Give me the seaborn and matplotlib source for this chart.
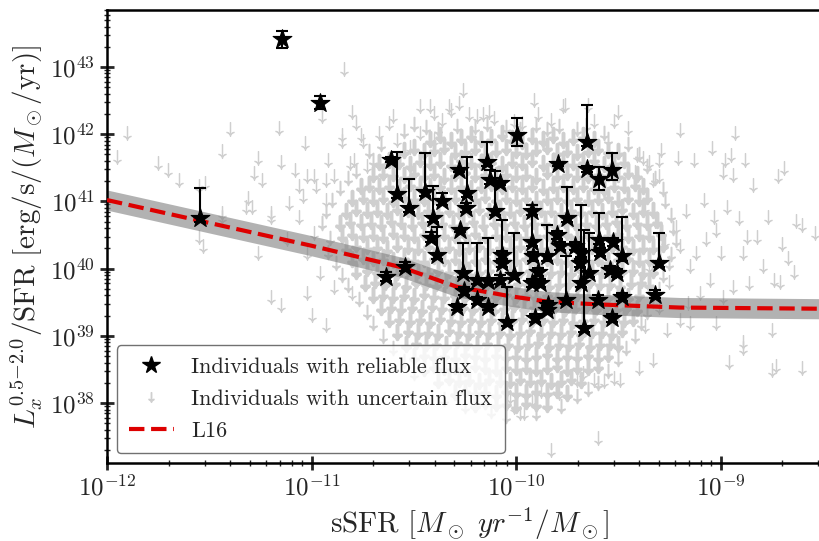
import numpy as np
import matplotlib
matplotlib.use("Agg")
import matplotlib.pyplot as plt
from matplotlib.lines import Line2D
from matplotlib.transforms import ScaledTranslation
import seaborn as sns

# ---------------- data (log10 values) ----------------
# reliable detections: log sSFR, log Lx/SFR, upper and lower error-bar ends
stars_x = [-11.146, -10.958, -11.545, -10.636, -10.543, -10.613, -10.583, -10.523, -10.445, -10.407,
           -10.362, -10.416, -10.388, -10.279, -10.241, -10.244, -10.274, -10.143, -10.127, -10.078,
           -10.103, -9.993, -9.796, -9.654, -9.654, -9.596, -9.529, -9.923, -9.749, -9.299,
           -9.320, -10.261, -10.254, -10.287, -10.189, -10.189, -10.139, -10.135, -10.078, -10.070,
           -10.070, -10.008, -10.045, -9.923, -9.915, -9.890, -9.883, -9.923, -9.850, -9.801,
           -9.785, -9.850, -9.907, -9.842, -9.756, -9.712, -9.680, -9.687, -9.680, -9.667,
           -9.641, -9.601, -9.593, -9.589, -9.529, -9.524, -9.540, -9.508, -9.483, -9.483]
stars_y = [43.41, 42.47, 40.75, 39.88, 40.03, 41.62, 41.11, 40.90, 41.14, 40.75,
           41.01, 40.46, 40.20, 41.47, 41.13, 40.90, 40.57, 41.58, 41.32, 41.27,
           40.85, 41.99, 41.55, 41.89, 41.48, 41.33, 41.47, 40.85, 40.75, 40.09,
           39.61, 39.93, 39.66, 39.43, 39.83, 39.53, 39.43, 39.81, 39.83, 40.08,
           40.20, 39.90, 39.21, 40.40, 40.18, 39.95, 39.78, 39.78, 40.18, 40.50,
           40.33, 39.38, 39.26, 39.46, 39.54, 40.33, 40.23, 40.08, 39.78, 39.11,
           39.93, 39.54, 40.43, 40.25, 39.26, 40.40, 39.98, 39.93, 40.18, 39.58]
stars_hi = [43.54, 42.57, 41.20, 39.95, 40.10, 41.66, 41.73, 41.33, 41.72, 41.23,
            41.12, 40.55, 40.62, 41.50, 41.66, 40.97, 40.60, 41.89, 41.47, 41.30,
            41.45, 42.24, 41.58, 42.43, 41.52, 41.51, 41.72, 40.95, 41.22, 40.53,
            39.68, 40.38, 39.72, 39.48, 40.38, 39.58, 39.48, 40.45, 39.90, 40.72,
            40.26, 40.53, 39.73, 40.95, 40.24, 40.01, 39.84, 39.84, 40.65, 40.56,
            40.39, 39.44, 39.32, 39.52, 40.18, 40.39, 40.29, 40.14, 40.95, 40.57,
            40.53, 39.60, 40.83, 40.31, 39.32, 40.46, 40.04, 39.99, 40.77, 39.64]
stars_lo = [43.28, 42.38, 40.69, 39.82, 39.97, 41.58, 41.05, 40.84, 41.08, 40.69,
            40.95, 40.40, 40.14, 41.44, 41.07, 40.84, 40.54, 41.52, 41.26, 41.24,
            40.79, 41.82, 41.52, 41.83, 41.44, 41.17, 41.32, 40.80, 40.69, 40.03,
            39.56, 39.87, 39.60, 39.38, 39.77, 39.48, 39.38, 39.75, 39.77, 40.02,
            40.14, 39.84, 39.15, 40.34, 40.12, 39.89, 39.72, 39.72, 40.12, 40.44,
            40.27, 39.32, 39.20, 39.40, 39.48, 40.27, 40.17, 40.02, 39.72, 39.05,
            39.87, 39.48, 40.37, 40.19, 39.20, 40.34, 39.92, 39.87, 40.12, 39.52]

# uncertain detections (upper limits, value = top of the arrow), dense central cloud
core_x = [
 -10.42,-10.37,-10.32,-10.27,-10.22,-10.17,-10.12,-10.07,-10.02,-9.97,-9.92,-9.87,-9.82,-9.77,-9.72,-9.67,-9.62,
 -10.55,-10.50,-10.45,-10.40,-10.35,-10.30,-10.25,-10.20,-10.15,-10.10,-10.05,-10.00,-9.95,-9.90,-9.85,-9.80,-9.75,-9.70,-9.65,-9.60,-9.55,-9.50,
 -10.67,-10.62,-10.57,-10.52,-10.47,-10.42,-10.37,-10.32,-10.27,-10.22,-10.17,-10.12,-10.07,-10.02,-9.97,-9.92,-9.87,-9.82,-9.77,-9.72,-9.67,-9.62,-9.57,-9.52,-9.47,
 -10.70,-10.65,-10.60,-10.55,-10.50,-10.45,-10.40,-10.35,-10.30,-10.25,-10.20,-10.15,-10.10,-10.05,-10.00,-9.95,-9.90,-9.85,-9.80,-9.75,-9.70,-9.65,-9.60,-9.55,-9.50,-9.45,-9.41,
 -10.76,-10.72,-10.67,-10.62,-10.57,-10.52,-10.47,-10.42,-10.37,-10.32,-10.27,-10.22,-10.17,-10.12,-10.07,-10.02,-9.97,-9.92,-9.87,-9.82,-9.77,-9.72,-9.67,-9.62,-9.57,-9.52,-9.47,-9.42,-9.38,
 -10.80,-10.75,-10.70,-10.65,-10.60,-10.55,-10.50,-10.45,-10.40,-10.35,-10.30,-10.25,-10.20,-10.15,-10.10,-10.05,-10.00,-9.95,-9.90,-9.85,-9.80,-9.75,-9.70,-9.65,-9.60,-9.55,-9.50,-9.45,-9.40,-9.36,
 -10.83,-10.78,-10.73,-10.68,-10.63,-10.58,-10.53,-10.48,-10.43,-10.38,-10.33,-10.28,-10.23,-10.18,-10.13,-10.08,-10.03,-9.98,-9.93,-9.88,-9.83,-9.78,-9.73,-9.68,-9.63,-9.58,-9.53,-9.48,-9.43,-9.38,-9.33,
 -10.86,-10.81,-10.76,-10.71,-10.66,-10.61,-10.56,-10.51,-10.46,-10.41,-10.36,-10.31,-10.26,-10.21,-10.16,-10.11,-10.06,-10.01,-9.96,-9.91,-9.86,-9.81,-9.76,-9.71,-9.66,-9.61,-9.56,-9.51,-9.46,-9.41,-9.36,-9.31,
 -10.85,-10.80,-10.75,-10.70,-10.65,-10.60,-10.55,-10.50,-10.45,-10.40,-10.35,-10.30,-10.25,-10.20,-10.15,-10.10,-10.05,-10.00,-9.95,-9.90,-9.85,-9.80,-9.75,-9.70,-9.65,-9.60,-9.55,-9.50,-9.45,-9.40,-9.35,-9.29,
 -10.83,-10.78,-10.73,-10.68,-10.63,-10.58,-10.53,-10.48,-10.43,-10.38,-10.33,-10.28,-10.23,-10.18,-10.13,-10.08,-10.03,-9.98,-9.93,-9.88,-9.83,-9.78,-9.73,-9.68,-9.63,-9.58,-9.53,-9.48,-9.43,-9.38,-9.33,-9.28,
 -10.80,-10.75,-10.70,-10.65,-10.60,-10.55,-10.50,-10.45,-10.40,-10.35,-10.30,-10.25,-10.20,-10.15,-10.10,-10.05,-10.00,-9.95,-9.90,-9.85,-9.80,-9.75,-9.70,-9.65,-9.60,-9.55,-9.50,-9.45,-9.40,-9.35,-9.30,
 -10.78,-10.73,-10.68,-10.63,-10.58,-10.53,-10.48,-10.43,-10.38,-10.33,-10.28,-10.23,-10.18,-10.13,-10.08,-10.03,-9.98,-9.93,-9.88,-9.83,-9.78,-9.73,-9.68,-9.63,-9.58,-9.53,-9.48,-9.43,-9.38,-9.33,
 -10.74,-10.69,-10.64,-10.59,-10.54,-10.49,-10.44,-10.39,-10.34,-10.29,-10.24,-10.19,-10.14,-10.09,-10.04,-9.99,-9.94,-9.89,-9.84,-9.79,-9.74,-9.69,-9.64,-9.59,-9.54,-9.49,-9.44,-9.39,-9.35,
 -10.70,-10.65,-10.60,-10.55,-10.50,-10.45,-10.40,-10.35,-10.30,-10.25,-10.20,-10.15,-10.10,-10.05,-10.00,-9.95,-9.90,-9.85,-9.80,-9.75,-9.70,-9.65,-9.60,-9.55,-9.50,-9.45,-9.40,
 -10.66,-10.61,-10.56,-10.51,-10.46,-10.41,-10.36,-10.31,-10.26,-10.21,-10.16,-10.11,-10.06,-10.01,-9.96,-9.91,-9.86,-9.81,-9.76,-9.71,-9.66,-9.61,-9.56,-9.51,-9.46,-9.41,
 -10.62,-10.57,-10.52,-10.47,-10.42,-10.37,-10.32,-10.27,-10.22,-10.17,-10.12,-10.07,-10.02,-9.97,-9.92,-9.87,-9.82,-9.77,-9.72,-9.67,-9.62,-9.57,-9.52,-9.47,-9.43,
 -10.58,-10.53,-10.48,-10.43,-10.38,-10.33,-10.28,-10.23,-10.18,-10.13,-10.08,-10.03,-9.98,-9.93,-9.88,-9.83,-9.78,-9.73,-9.68,-9.63,-9.58,-9.53,-9.48,
 -10.54,-10.49,-10.44,-10.39,-10.34,-10.29,-10.24,-10.19,-10.14,-10.09,-10.04,-9.99,-9.94,-9.89,-9.84,-9.79,-9.74,-9.69,-9.64,-9.59,-9.54,-9.50,
 -10.50,-10.45,-10.40,-10.35,-10.30,-10.25,-10.20,-10.15,-10.10,-10.05,-10.00,-9.95,-9.90,-9.85,-9.80,-9.75,-9.70,-9.65,-9.60,-9.55,
 -10.45,-10.40,-10.35,-10.30,-10.25,-10.20,-10.15,-10.10,-10.05,-10.00,-9.95,-9.90,-9.85,-9.80,-9.75,-9.70,-9.65,-9.60,
 -10.38,-10.33,-10.28,-10.23,-10.18,-10.13,-10.08,-10.03,-9.98,-9.93,-9.88,-9.83,-9.78,-9.73,-9.68,
 -10.30,-10.25,-10.20,-10.15,-10.10,-10.05,-10.00,-9.95,-9.90,-9.85,-9.80,-9.75,
 -10.20,-10.15,-10.10,-10.05,-10.00,-9.95,-9.90,-9.85]
core_y = [
 42.03,42.08,42.01,42.06,42.10,42.02,42.05,42.12,42.04,42.00,42.07,42.03,42.09,42.01,42.05,42.08,42.02,
 41.86,41.90,41.84,41.89,41.92,41.85,41.88,41.91,41.83,41.87,41.90,41.86,41.84,41.89,41.92,41.85,41.88,41.83,41.87,41.90,41.86,41.84,
 41.68,41.72,41.70,41.66,41.73,41.69,41.71,41.67,41.74,41.70,41.68,41.72,41.66,41.71,41.69,41.73,41.67,41.70,41.72,41.68,41.71,41.74,41.66,41.70,41.72,
 41.50,41.54,41.52,41.49,41.55,41.51,41.53,41.48,41.52,41.56,41.50,41.53,41.49,41.54,41.51,41.52,41.48,41.55,41.50,41.53,41.51,41.49,41.54,41.52,41.50,41.55,41.51,
 41.32,41.36,41.33,41.35,41.31,41.37,41.34,41.32,41.36,41.33,41.35,41.30,41.34,41.37,41.32,41.35,41.33,41.36,41.31,41.34,41.35,41.32,41.36,41.33,41.30,41.35,41.34,41.37,41.32,
 41.14,41.18,41.15,41.17,41.13,41.19,41.16,41.14,41.18,41.15,41.17,41.13,41.16,41.19,41.14,41.17,41.15,41.18,41.13,41.16,41.17,41.14,41.18,41.15,41.16,41.19,41.13,41.17,41.15,41.18,
 40.96,41.00,40.97,40.99,40.95,41.01,40.98,40.96,41.00,40.97,40.99,40.95,40.98,41.01,40.96,40.99,40.97,41.00,40.95,40.98,40.99,40.96,41.00,40.97,40.98,40.95,40.99,41.01,40.96,40.98,40.97,
 40.78,40.82,40.79,40.81,40.77,40.83,40.80,40.78,40.82,40.79,40.81,40.77,40.80,40.83,40.78,40.81,40.79,40.82,40.77,40.80,40.81,40.78,40.82,40.79,40.80,40.77,40.81,40.83,40.78,40.80,40.79,40.82,
 40.60,40.64,40.61,40.63,40.59,40.65,40.62,40.60,40.64,40.61,40.63,40.59,40.62,40.65,40.60,40.63,40.61,40.64,40.59,40.62,40.63,40.60,40.64,40.61,40.62,40.59,40.63,40.65,40.60,40.62,40.61,40.64,
 40.42,40.46,40.43,40.45,40.41,40.47,40.44,40.42,40.46,40.43,40.45,40.41,40.44,40.47,40.42,40.45,40.43,40.46,40.41,40.44,40.45,40.42,40.46,40.43,40.44,40.41,40.45,40.47,40.42,40.44,40.43,40.46,
 40.24,40.28,40.25,40.27,40.23,40.29,40.26,40.24,40.28,40.25,40.27,40.23,40.26,40.29,40.24,40.27,40.25,40.28,40.23,40.26,40.27,40.24,40.28,40.25,40.26,40.23,40.27,40.29,40.24,40.26,40.25,
 40.06,40.10,40.07,40.09,40.05,40.11,40.08,40.06,40.10,40.07,40.09,40.05,40.08,40.11,40.06,40.09,40.07,40.10,40.05,40.08,40.09,40.06,40.10,40.07,40.08,40.05,40.09,40.11,40.06,40.08,
 39.88,39.92,39.89,39.91,39.87,39.93,39.90,39.88,39.92,39.89,39.91,39.87,39.90,39.93,39.88,39.91,39.89,39.92,39.87,39.90,39.91,39.88,39.92,39.89,39.90,39.87,39.91,39.93,39.88,
 39.70,39.74,39.71,39.73,39.69,39.75,39.72,39.70,39.74,39.71,39.73,39.69,39.72,39.75,39.70,39.73,39.71,39.74,39.69,39.72,39.73,39.70,39.74,39.71,39.72,39.69,39.73,
 39.52,39.56,39.53,39.55,39.51,39.57,39.54,39.52,39.56,39.53,39.55,39.51,39.54,39.57,39.52,39.55,39.53,39.56,39.51,39.54,39.55,39.52,39.56,39.53,39.54,39.51,
 39.34,39.38,39.35,39.37,39.33,39.39,39.36,39.34,39.38,39.35,39.37,39.33,39.36,39.39,39.34,39.37,39.35,39.38,39.33,39.36,39.37,39.34,39.38,39.35,39.36,
 39.16,39.20,39.17,39.19,39.15,39.21,39.18,39.16,39.20,39.17,39.19,39.15,39.18,39.21,39.16,39.19,39.17,39.20,39.15,39.18,39.19,39.16,39.20,
 38.98,39.02,38.99,39.01,38.97,39.03,39.00,38.98,39.02,38.99,39.01,38.97,39.00,39.03,38.98,39.01,38.99,39.02,38.97,39.00,39.01,38.98,
 38.80,38.84,38.81,38.83,38.79,38.85,38.82,38.80,38.84,38.81,38.83,38.79,38.82,38.85,38.80,38.83,38.81,38.84,38.79,38.82,
 38.62,38.66,38.63,38.65,38.61,38.67,38.64,38.62,38.66,38.63,38.65,38.61,38.64,38.67,38.62,38.65,38.63,38.66,
 38.44,38.48,38.45,38.47,38.43,38.49,38.46,38.44,38.48,38.45,38.47,38.43,38.46,38.49,38.44,
 38.26,38.30,38.27,38.29,38.25,38.31,38.28,38.26,38.30,38.27,38.29,38.25,
 38.08,38.12,38.09,38.11,38.07,38.13,38.10,38.08]

# uncertain detections along the ragged rim of the cloud
fringe_x = [
 -10.55, -10.50, -10.44, -10.38, -10.29, -10.20, -10.14, -10.05, -9.98, -9.90, -9.85, -9.79, -9.70, -9.66, -9.57, -9.55,
 -10.72, -10.66, -10.70, -10.78, -10.82, -10.86, -10.90, -10.93, -10.95, -10.91, -10.92, -10.88, -10.85, -10.82, -10.77,
 -10.73, -10.70, -10.65, -10.60, -10.55, -10.50,
 -9.45, -9.40, -9.36, -9.32, -9.28, -9.27, -9.24, -9.23, -9.22, -9.24, -9.25, -9.28, -9.30, -9.33, -9.36,
 -9.39, -9.42, -9.46, -9.50, -9.55, -9.60,
 -10.35, -10.25, -10.12, -10.05, -9.90, -9.78, -9.70, -9.65]
fringe_y = [
 42.15, 42.25, 42.20, 42.18, 42.22, 42.20, 42.25, 42.21, 42.17, 42.23, 42.18, 42.22, 42.17, 42.24, 42.12, 42.02,
 41.85, 41.95, 41.72, 41.55, 41.45, 41.30, 41.12, 40.95, 40.78, 40.55, 40.35, 40.18, 40.00, 39.85, 39.65,
 39.45, 39.28, 39.10, 38.92, 38.72, 38.55,
 41.95, 41.80, 41.62, 41.45, 41.28, 41.10, 40.90, 40.70, 40.52, 40.32, 40.18, 40.00, 39.80, 39.62, 39.45,
 39.28, 39.10, 38.92, 38.75, 38.58, 38.40,
 38.15, 38.05, 37.98, 37.90, 37.95, 38.05, 38.20, 38.30]

# uncertain detections, scattered outskirts
edge_x = [
 -10.84, -11.90, -11.95, -11.40, -11.16, -11.44, -11.03, -10.95, -10.85, -10.80, -10.78, -10.76,
 -11.75, -11.70, -11.65, -11.55, -11.52, -11.44, -11.31, -11.29, -11.26, -11.15, -11.28, -11.24,
 -11.20, -11.11, -11.08, -11.06, -11.04, -11.02, -10.99, -10.98, -10.92, -10.93, -10.89, -10.85,
 -10.81, -10.79, -10.75, -10.73, -10.67, -10.62, -10.60, -10.58, -10.47, -10.42, -10.40, -10.36,
 -10.33, -10.28, -10.52, -10.47, -10.40, -10.32, -11.55,
 -11.53, -11.44, -11.32, -11.26, -11.20, -11.06, -10.99, -10.93, -11.20, -11.12, -11.02, -10.96,
 -10.89, -10.80, -11.02, -11.15, -11.00, -10.93,
 -10.26, -9.91, -9.77, -10.32, -10.23, -10.19, -10.16, -10.13, -10.11, -9.65, -9.89, -9.83,
 -9.62, -10.01, -9.97,
 -9.76, -9.50, -9.52, -9.45, -9.20, -8.93, -9.04, -9.13, -9.21, -8.98, -8.95, -8.88, -8.99,
 -8.94, -8.84, -8.72, -8.69, -9.29, -9.30, -9.41, -9.38, -9.35, -9.42, -9.30, -9.33,
 -8.77, -8.63, -8.60, -8.54, -8.70, -8.67, -8.64, -8.71, -8.74, -8.79, -8.82, -8.87, -8.91,
 -8.89, -8.86, -8.94, -8.97, -9.08, -9.03, -9.02, -9.07, -9.12, -9.00, -9.05, -8.99, -9.10,
 -9.16, -9.20, -9.26, -8.75, -8.89, -9.02, -9.15,
 -8.89, -8.96, -8.75, -8.60, -8.73, -9.33, -9.40, -9.49,
 -9.98, -9.96, -9.83, -9.60, -9.92, -9.88, -9.79, -9.70, -9.62, -9.57, -9.52, -9.67, -10.01, -10.03,
 -9.37, -9.32, -9.27, -9.22, -9.17, -9.35, -9.25, -9.30, -9.37, -9.15, -9.20]
edge_y = [
 43.06, 42.11, 41.76, 42.17, 42.19, 41.84, 41.96, 42.36, 42.09, 42.42, 42.26, 42.09,
 41.67, 41.57, 41.42, 41.32, 41.37, 40.92, 41.14, 41.02, 41.74, 41.69, 41.52, 41.42,
 40.92, 41.07, 41.57, 41.32, 41.17, 41.47, 41.47, 41.32, 41.72, 41.42, 41.47, 41.99,
 41.67, 41.72, 41.99, 41.62, 42.11, 42.26, 42.36, 42.01, 42.51, 42.51, 42.41, 42.31,
 42.51, 42.56, 41.91, 42.11, 42.01, 42.01, 40.57,
 40.43, 40.87, 41.02, 40.33, 40.87, 40.87, 40.62, 41.12, 39.68, 40.53, 40.33, 40.03,
 39.83, 39.73, 39.73, 39.55, 39.40, 39.25,
 42.76, 42.61, 42.51, 42.46, 42.39, 42.36, 42.39, 42.43, 42.34, 42.53, 42.39, 42.31,
 42.29, 42.29, 42.26,
 42.53, 42.43, 42.29, 42.19, 42.16, 42.11, 41.89, 41.72, 41.74, 41.72, 41.79, 41.72, 41.54,
 41.49, 41.34, 41.47, 41.59, 41.86, 41.72, 41.79, 41.74, 41.69, 41.54, 41.47, 41.42,
 40.87, 40.80, 40.75, 40.62, 40.47, 40.25, 40.05, 39.90, 39.93, 40.13, 40.57, 40.57, 40.85,
 40.33, 39.88, 39.83, 41.02, 41.12, 40.87, 40.67, 40.53, 40.33, 40.33, 39.93, 39.68, 39.73,
 39.58, 39.33, 39.19, 39.19, 39.01, 39.28, 39.28,
 38.91, 38.71, 38.59, 38.61, 38.64, 38.74, 38.61, 38.44,
 37.95, 37.95, 37.40, 37.57, 38.14, 38.27, 38.24, 38.44, 38.44, 38.42, 38.47, 38.54, 38.04, 38.19,
 41.02, 40.80, 40.50, 40.72, 40.95, 40.13, 39.90, 39.53, 39.24, 40.13, 40.43]

# L16 relation (log sSFR, log Lx/SFR) and its uncertainty band
l16_x = [-12.0, -11.0, -10.56, -10.29, -10.03, -9.85, -9.62, -9.20, -8.40]
l16_y = [41.02, 40.34, 40.02, 39.73, 39.59, 39.51, 39.47, 39.42, 39.40]
l16_lo = [40.87, 40.19, 39.87, 39.58, 39.44, 39.36, 39.32, 39.27, 39.25]
l16_hi = [41.17, 40.49, 40.17, 39.88, 39.74, 39.66, 39.62, 39.57, 39.55]

labels = ["Individuals with reliable flux", "Individuals with uncertain flux", "L16"]

assert len(stars_x) == len(stars_y) == len(stars_hi) == len(stars_lo)
assert len(core_x) == len(core_y), (len(core_x), len(core_y))
assert len(fringe_x) == len(fringe_y), (len(fringe_x), len(fringe_y))
assert len(edge_x) == len(edge_y), (len(edge_x), len(edge_y))

# ---------------- style ----------------
sns.set_theme(style="ticks")
plt.rcParams.update({
    "font.family": "serif",
    "font.serif": ["cmr10", "DejaVu Serif"],
    "mathtext.fontset": "cm",
    "axes.formatter.use_mathtext": True,
    "axes.unicode_minus": False,
    "axes.linewidth": 1.8,
    "axes.edgecolor": "black",
})

GRAY = "#cfcfcf"
ARROW = r"$\downarrow$"

fig = plt.figure(figsize=(8.19, 5.41), dpi=100)
ax = fig.add_axes([107 / 819, 78 / 541, 724.8 / 819, 453 / 541])
ax.set_xscale("log")
ax.set_yscale("log")

# gray upper limits, drawn as down-arrow glyphs hanging from the limit value
glyph_shift = ScaledTranslation(0, -0.065, fig.dpi_scale_trans)
for gx, gy, lw in [(core_x, core_y, 2.4), (fringe_x, fringe_y, 1.0), (edge_x, edge_y, 0.6)]:
    sns.scatterplot(x=10 ** np.array(gx), y=10 ** np.array(gy), ax=ax, marker=ARROW,
                    s=105, color=GRAY, edgecolor=GRAY, linewidth=lw, zorder=1)
    ax.collections[-1].set_offset_transform(ax.transData + glyph_shift)

# L16 band and line
lx = 10 ** np.array(l16_x)
ax.fill_between(lx, 10 ** np.array(l16_lo), 10 ** np.array(l16_hi),
                color="gray", alpha=0.6, lw=0, zorder=2)
sns.lineplot(x=lx, y=10 ** np.array(l16_y), ax=ax, color="#dd0000", lw=3,
             linestyle="--", zorder=3, estimator=None, sort=False)

# reliable detections
sx = 10 ** np.array(stars_x)
sy = 10 ** np.array(stars_y)
ax.errorbar(sx, sy, yerr=[sy - 10 ** np.array(stars_lo), 10 ** np.array(stars_hi) - sy],
            fmt="none", ecolor="black", elinewidth=1.5, capsize=4, capthick=1.5, zorder=4)
sns.scatterplot(x=sx, y=sy, ax=ax, marker="*", s=200, color="black",
                edgecolor="black", linewidth=0.8, zorder=5)

ax.set_xlim(1e-12, 10 ** (-12 + 724.8 / 204.5))
ax.set_ylim(10 ** 37.107, 10 ** 43.848)

ax.tick_params(which="major", direction="inout", length=10, width=2.0,
               labelsize=18, top=False, right=False)
ax.tick_params(which="minor", direction="inout", length=5, width=1.0,
               top=False, right=False)
for s in ["left", "bottom", "top", "right"]:
    ax.spines[s].set_linewidth(1.8)

ax.set_xlabel(r"sSFR $[M_\odot\ yr^{-1}/M_\odot]$", fontsize=21, labelpad=4)
ax.set_ylabel(r"$L_x^{0.5{-}2.0}/\mathrm{SFR}\ [\mathrm{erg/s}/(M_\odot/\mathrm{yr})]$",
              fontsize=21, labelpad=4)

handles = [
    Line2D([], [], marker="*", color="black", linestyle="none", markersize=13),
    Line2D([], [], marker=ARROW, color=GRAY, linestyle="none", markersize=7),
    Line2D([], [], color="#dd0000", lw=3, linestyle="--"),
]
leg = ax.legend(handles, labels, loc="lower left", fontsize=16, labelspacing=0.55,
                bbox_to_anchor=(117 / 819, 88 / 541), bbox_transform=fig.transFigure,
                borderaxespad=0, borderpad=0.55, frameon=True, fancybox=True,
                framealpha=0.8, edgecolor="0.3")
leg.get_frame().set_linewidth(1.0)

fig.savefig("out.png", dpi=100)
